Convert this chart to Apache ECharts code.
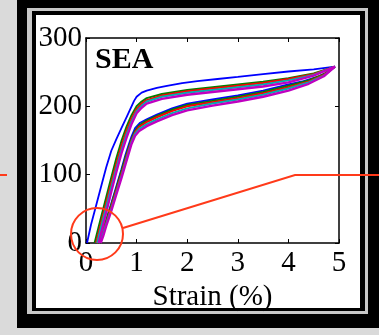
<!DOCTYPE html>
<html>
<head>
<meta charset="utf-8">
<script src="https://cdn.jsdelivr.net/npm/echarts@6/dist/echarts.min.js"></script>
<style>
html,body{margin:0;padding:0;background:#dadada;}
#chart{width:379px;height:335px;}
</style>
</head>
<body>
<div id="chart"></div>
<script>
// Ticks
var xTicks = [0, 1, 2, 3, 4, 5];
var yTicks = [0, 100, 200, 300];
var xAxisName = 'Strain (%)';
var panelLabel = 'SEA';

// Cycle 1 (blue)
var blueLoad = [[0.02,0],[0.1,27],[0.2,55],[0.3,83],[0.4,111],[0.5,135],[0.6,152],[0.7,168],[0.8,184],[0.9,200],[0.95,208],[1.0,214],[1.1,220],[1.2,223],[1.4,227],[1.6,230],[1.9,234],[2.2,237],[2.6,240],[3.0,243],[3.5,247],[4.0,251],[4.5,254],[4.92,258]];
var blueUnload = [[4.92,258],[4.8,251],[4.6,244],[4.3,237],[4.0,232],[3.5,223],[3.0,216],[2.5,210],[2.0,204],[1.7,197],[1.4,188],[1.2,181],[1.07,176],[0.97,168],[0.9,156],[0.84,143],[0.78,129],[0.7,108],[0.6,83],[0.5,58],[0.4,34],[0.3,14],[0.22,4],[0.17,0]];
// Cycle 2 (green)
var greenLoad = [[0.17,0],[0.3,38],[0.4,67],[0.5,96],[0.6,124],[0.7,149],[0.8,170],[0.9,187],[1.0,200],[1.1,207],[1.2,212],[1.5,218],[2.0,224],[2.5,228],[3.0,232],[3.5,236],[4.0,241],[4.5,248],[4.92,258]];
var greenUnload = [[4.92,258],[4.7,247],[4.4,238],[4.0,230],[3.5,221],[3.0,214],[2.5,208],[2.0,202],[1.7,195],[1.4,186],[1.2,179],[1.05,172],[0.97,164],[0.9,152],[0.84,139],[0.78,125],[0.7,105],[0.6,80],[0.5,56],[0.4,33],[0.3,13],[0.24,3],[0.2,0]];
// Cycle 3 (red)
var redLoad = [[0.2,0],[0.3,30],[0.4,59],[0.5,88],[0.6,116],[0.7,142],[0.8,164],[0.9,182],[1.0,196],[1.1,204],[1.2,209],[1.5,216],[2.0,222],[2.5,226],[3.0,230],[3.5,234],[4.0,240],[4.5,247],[4.92,258]];
var redUnload = [[4.92,258],[4.7,246],[4.4,236],[4.0,228],[3.5,219],[3.0,212],[2.5,206],[2.0,200],[1.7,193],[1.4,184],[1.2,177],[1.05,170],[0.97,162],[0.9,150],[0.84,136],[0.78,121],[0.7,101],[0.6,77],[0.5,53],[0.4,30],[0.3,11],[0.22,0]];
// Cycle 4 (cyan)
var cyanLoad = [[0.22,0],[0.3,24],[0.4,53],[0.5,82],[0.6,110],[0.7,136],[0.8,159],[0.9,178],[1.0,193],[1.1,201],[1.2,207],[1.5,214],[2.0,220],[2.5,224],[3.0,228],[3.5,232],[4.0,238],[4.5,246],[4.92,258]];
var cyanUnload = [[4.92,258],[4.7,245],[4.4,235],[4.0,226],[3.5,217],[3.0,210],[2.5,204],[2.0,197],[1.7,190],[1.4,181],[1.2,174],[1.05,167],[0.97,160],[0.9,148],[0.84,133],[0.78,118],[0.7,98],[0.6,74],[0.5,50],[0.4,28],[0.32,10],[0.25,0]];
// Cycle 5 (magenta)
var magentaLoad = [[0.25,0],[0.3,15],[0.4,45],[0.5,75],[0.6,104],[0.7,131],[0.8,154],[0.9,174],[1.0,190],[1.1,198],[1.2,204],[1.5,211],[2.0,217],[2.5,221],[3.0,225],[3.5,229],[4.0,235],[4.5,245],[4.92,258]];
var magentaUnload = [[4.92,258],[4.7,244],[4.4,233],[4.0,223],[3.5,214],[3.0,207],[2.5,201],[2.0,194],[1.7,187],[1.4,178],[1.2,171],[1.05,164],[0.97,157],[0.9,145],[0.84,130],[0.78,115],[0.7,95],[0.6,71],[0.5,47],[0.4,25],[0.34,10],[0.29,0]];

var SERIF = "'Liberation Serif','Times New Roman',serif";
var RED = '#ff3a1a';

var cycles = [
  {name:'Cycle 1', color:'#0000ff', w:1.8, load:blueLoad, unload:blueUnload},
  {name:'Cycle 2', color:'#008000', w:2, load:greenLoad, unload:greenUnload},
  {name:'Cycle 3', color:'#ff0000', w:2, load:redLoad, unload:redUnload},
  {name:'Cycle 4', color:'#00b0b0', w:2, load:cyanLoad, unload:cyanUnload},
  {name:'Cycle 5', color:'#c000c0', w:2.4, load:magentaLoad, unload:magentaUnload}
];

var axisLine = {show:true, onZero:false, lineStyle:{color:'#000', width:1.5}};
var axisTick = {show:true, inside:true, length:4, lineStyle:{color:'#000', width:1}};

var chart = echarts.init(document.getElementById('chart'), null, {renderer:'canvas'});
chart.setOption({
  animation:false,
  backgroundColor:'#dadada',
  title:{text:panelLabel, left:95, top:45, padding:0,
    textStyle:{fontFamily:SERIF, fontWeight:'bold', fontSize:30, color:'#000'}},
  grid:{left:86, right:40, top:38, bottom:92, containLabel:false},
  xAxis:[
    {type:'value', min:xTicks[0], max:xTicks[xTicks.length-1], interval:1, position:'bottom',
     axisLine:axisLine, axisTick:axisTick, splitLine:{show:false},
     axisLabel:{fontFamily:SERIF, fontSize:29, color:'#000', margin:6},
     name:xAxisName, nameLocation:'middle', nameGap:34,
     nameTextStyle:{fontFamily:SERIF, fontSize:29, color:'#000'}},
    {type:'value', min:xTicks[0], max:xTicks[xTicks.length-1], interval:1, position:'top',
     axisLine:axisLine, axisTick:axisTick, splitLine:{show:false}, axisLabel:{show:false}}
  ],
  yAxis:[
    {type:'value', min:yTicks[0], max:yTicks[yTicks.length-1], interval:100, position:'left',
     axisLine:axisLine, axisTick:axisTick, splitLine:{show:false},
     axisLabel:{fontFamily:SERIF, fontSize:29, color:'#000', margin:4}},
    {type:'value', min:yTicks[0], max:yTicks[yTicks.length-1], interval:100, position:'right',
     axisLine:axisLine, axisTick:axisTick, splitLine:{show:false}, axisLabel:{show:false}}
  ],
  graphic:{elements:[
    {type:'rect', z:-100, shape:{x:17, y:-5, width:400, height:333}, style:{fill:'#000'}},
    {type:'rect', z:-99, shape:{x:27, y:8, width:341, height:306}, style:{fill:'#c8c8c8'}},
    {type:'rect', z:-98, shape:{x:32, y:11, width:333, height:300}, style:{fill:'#000'}},
    {type:'rect', z:-97, shape:{x:36, y:15, width:324, height:293}, style:{fill:'#ffffff'}},
    {type:'circle', z:100, shape:{cx:97, cy:234, r:26}, style:{fill:null, stroke:RED, lineWidth:2}},
    {type:'polyline', z:100, shape:{points:[[123,228],[295,175],[379,175]]}, style:{fill:null, stroke:RED, lineWidth:2}},
    {type:'line', z:100, shape:{x1:0, y1:175, x2:7, y2:175}, style:{stroke:RED, lineWidth:2}}
  ]},
  series: cycles.map(function(c){
    return {type:'line', name:c.name, xAxisIndex:0, yAxisIndex:0,
      data:c.load.concat(c.unload), showSymbol:false, symbol:'none',
      lineStyle:{color:c.color, width:c.w}, itemStyle:{color:c.color}};
  })
});
</script>
</body>
</html>
